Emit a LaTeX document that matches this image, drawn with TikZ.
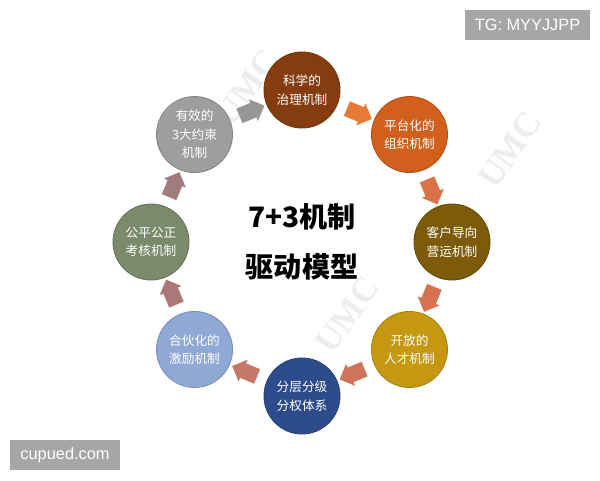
\documentclass[tikz,border=0pt]{standalone}
\usepackage{fontspec}
\setmainfont{Liberation Sans}
\newfontfamily\cjk{Noto Sans CJK SC}
\newfontfamily\wmfont{Liberation Serif}
\usetikzlibrary{positioning,shapes.arrows,calc}

% circle fills
\definecolor{cZhili}{RGB}{133,60,15}
\definecolor{cPingtai}{RGB}{208,96,28}
\definecolor{cKehu}{RGB}{125,91,10}
\definecolor{cKaifang}{RGB}{198,152,18}
\definecolor{cFenceng}{RGB}{44,76,140}
\definecolor{cHehuo}{RGB}{143,168,214}
\definecolor{cGongping}{RGB}{124,138,108}
\definecolor{cYouxiao}{RGB}{158,158,158}
% arrow fills
\definecolor{aGray}{RGB}{150,150,150}
\definecolor{aOrange}{RGB}{232,122,56}
\definecolor{aSalmonA}{RGB}{218,114,72}
\definecolor{aSalmonB}{RGB}{214,114,80}
\definecolor{aSalmonC}{RGB}{206,116,90}
\definecolor{aSalmonD}{RGB}{196,120,104}
\definecolor{aMauveA}{RGB}{170,120,118}
\definecolor{aMauveB}{RGB}{162,124,124}
\definecolor{tagGray}{RGB}{166,166,166}

\begin{document}
\begin{tikzpicture}[
  mech/.style={circle, draw=#1!85!black, line width=0.5pt, fill=#1, minimum size=1.52cm,
    inner sep=0pt, text=white, align=center, font=\cjk\fontsize{7.2}{10.5}\selectfont},
  flow/.style={single arrow, fill=#1, draw=none, inner sep=0.15cm,
    single arrow head extend=0.08cm, single arrow tip angle=90, minimum height=0.54cm},
  headline/.style={font=\cjk\bfseries\fontsize{16}{20}\selectfont, inner sep=0pt},
  tag/.style={fill=tagGray, text=white, inner sep=0pt, minimum height=0.6cm,
    font=\fontsize{9.3}{11}\selectfont},
  wmark/.style={text=black!7, inner sep=0pt, font=\wmfont\bfseries\fontsize{20}{22}\selectfont}
]
  \useasboundingbox (0,0) rectangle (12,9.6);
  \coordinate (mid) at (6.04,4.76);

  % faint watermarks
  \node[wmark, rotate=55] (wmA) at (6.95,3.3) {UMC};
  \node[wmark, rotate=55] (wmB) at (4.95,7.85) {UMC};
  \node[wmark, rotate=55] (wmC) at (10.2,6.6) {UMC};

  % the eight mechanisms
  \node[mech=cZhili]    (zhili)    at ($(mid)+(90:3.04)$)   {科学的\\治理机制};
  \node[mech=cPingtai]  (pingtai)  at ($(mid)+(45:3.04)$)   {平台化的\\组织机制};
  \node[mech=cKehu]     (kehu)     at ($(mid)+(0:3.00)$)    {客户导向\\营运机制};
  \node[mech=cKaifang]  (kaifang)  at ($(mid)+(-45:3.04)$)  {开放的\\人才机制};
  \node[mech=cFenceng]  (fenceng)  at ($(mid)+(-90:3.08)$)  {分层分级\\分权体系};
  \node[mech=cHehuo]    (hehuo)    at ($(mid)+(-135:3.04)$) {合伙化的\\激励机制};
  \node[mech=cGongping] (gongping) at ($(mid)+(180:3.02)$)  {公平公正\\考核机制};
  \node[mech=cYouxiao]  (youxiao)  at ($(mid)+(135:3.04)$)  {有效的\\3大约束\\机制};

  % block arrows between neighbours
  \foreach \from/\to/\ang/\col in {youxiao/zhili/22.5/aGray, zhili/pingtai/-22.5/aOrange,
      pingtai/kehu/-67.5/aSalmonA, kehu/kaifang/-112.5/aSalmonB,
      kaifang/fenceng/-157.5/aSalmonC, fenceng/hehuo/-202.5/aSalmonD,
      hehuo/gongping/-247.5/aMauveA, gongping/youxiao/-292.5/aMauveB}
    \node[flow=\col, rotate=\ang] (a-\from) at ($(\from)!0.5!(\to)$) {};

  % title in the middle
  \node[headline] (lineA) at ($(mid)+(0,0.5)$) {7+3机制};
  \node[headline] (lineB) at ($(mid)+(0,-0.5)$) {驱动模型};

  % corner tags
  \node[tag, minimum width=2.5cm] (tg) at (10.55,9.1) {TG: MYYJJPP};
  \node[tag, minimum width=2.2cm] (site) at (1.3,0.5) {cupued.com};
\end{tikzpicture}
\end{document}
